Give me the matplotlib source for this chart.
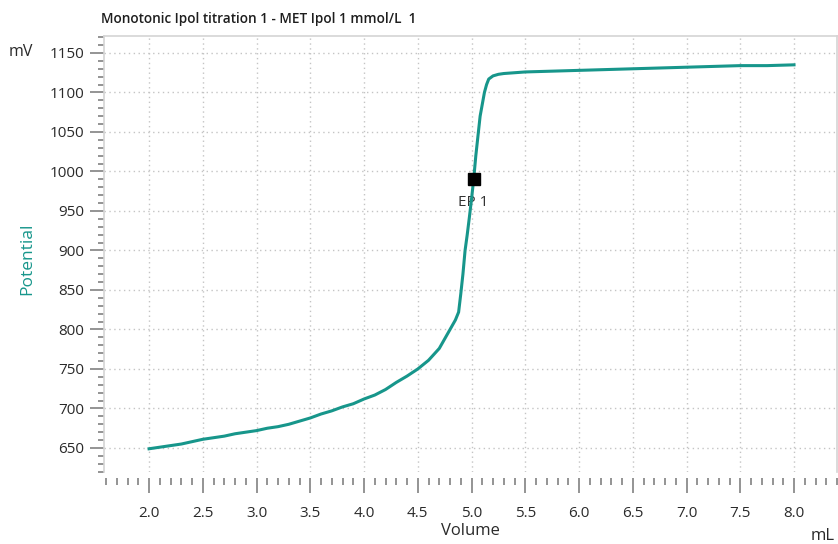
import matplotlib.pyplot as plt
from matplotlib.ticker import MultipleLocator, FormatStrFormatter

# titration curve: volume (mL) vs potential (mV)
volume = [2.0, 2.1, 2.2, 2.3, 2.4, 2.5, 2.6, 2.7, 2.8, 2.9,
          3.0, 3.1, 3.2, 3.3, 3.4, 3.5, 3.6, 3.7, 3.8, 3.9,
          4.0, 4.1, 4.2, 4.3, 4.4, 4.5, 4.6, 4.7, 4.75, 4.8,
          4.85, 4.88, 4.9, 4.92, 4.94, 4.96, 4.98, 5.0, 5.02, 5.04,
          5.06, 5.08, 5.1, 5.12, 5.14, 5.16, 5.2, 5.25, 5.3, 5.4,
          5.5, 5.75, 6.0, 6.25, 6.5, 6.75, 7.0, 7.25, 7.5, 7.75, 8.0]
potential = [649, 651, 653, 655, 658, 661, 663, 665, 668, 670,
             672, 675, 677, 680, 684, 688, 693, 697, 702, 706,
             712, 717, 724, 733, 741, 750, 761, 776, 788, 800,
             812, 822, 845, 870, 900, 920, 942, 965, 990, 1020,
             1045, 1070, 1085, 1100, 1110, 1117, 1121, 1123, 1124, 1125,
             1126, 1127, 1128, 1129, 1130, 1131, 1132, 1133, 1134, 1134, 1135]

ep_volume = 5.02
ep_potential = 990

teal = '#17968b'
text_dark = '#2a2a2a'
plt.rcParams['font.family'] = ['Open Sans', 'DejaVu Sans']

fig = plt.figure(figsize=(8.38, 5.44), dpi=100)
ax = fig.add_axes([104 / 838, 1 - 472 / 544, (837 - 104) / 838, (472 - 36) / 544])

ax.plot(volume, potential, color=teal, lw=2.2, zorder=3)
ax.plot([ep_volume], [ep_potential], 's', color='black', ms=8, zorder=4)
ax.annotate('EP 1', (ep_volume, ep_potential), xytext=(0, -11),
            textcoords='offset points', ha='center', va='top',
            fontsize=11, color='#333333', zorder=2)

ax.set_xlim(1.581, 8.40)
ax.set_ylim(619.6, 1171.5)

ax.xaxis.set_major_locator(MultipleLocator(0.5))
ax.xaxis.set_minor_locator(MultipleLocator(0.1))
ax.xaxis.set_major_formatter(FormatStrFormatter('%.1f'))
ax.yaxis.set_major_locator(MultipleLocator(50))
ax.yaxis.set_minor_locator(MultipleLocator(10))

for side in ['left', 'top', 'right']:
    ax.spines[side].set_color('#d4d4d4')
    ax.spines[side].set_linewidth(1.2)
ax.spines['bottom'].set_position(('outward', 4.3))
ax.spines['bottom'].set_visible(False)

ax.tick_params(axis='both', which='both', direction='out', color='#777777',
               width=1.1, labelcolor=text_dark, labelsize=11)
ax.tick_params(axis='y', which='major', length=10, pad=4)
ax.tick_params(axis='y', which='minor', length=4)
ax.tick_params(axis='x', which='major', length=11, pad=9)
ax.tick_params(axis='x', which='minor', length=5)

ax.grid(True, which='major', color='#c4c4c4', lw=1.0, linestyle=(0, (1, 2.5)))
ax.set_axisbelow(True)

fig.text(101 / 838, 1 - 19 / 544, 'Monotonic Ipol titration 1 - MET Ipol 1 mmol/L  1',
         ha='left', va='center', fontsize=9.8, fontweight='semibold', color='#1e1e1e')
fig.text(21 / 838, 1 - 52 / 544, 'mV', ha='center', va='center', fontsize=11.5, color=text_dark)
fig.text(27 / 838, 1 - 259 / 544, 'Potential', ha='center', va='center',
         rotation=90, fontsize=12.5, color=teal)
fig.text(470 / 838, 1 - 531 / 544, 'Volume', ha='center', va='center', fontsize=12, color=text_dark)
fig.text(823 / 838, 1 - 536 / 544, 'mL', ha='center', va='center', fontsize=12, color=text_dark)

fig.savefig('out.png', dpi=100)
